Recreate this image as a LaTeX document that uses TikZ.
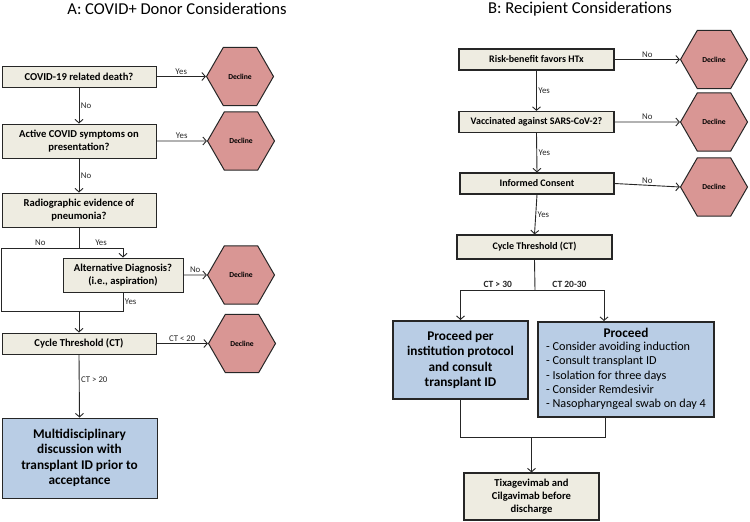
\documentclass[tikz,border=0pt]{standalone}
\usepackage{fontspec}
\setmainfont{Carlito}
\usepackage{tikz}
\usetikzlibrary{arrows.meta,shapes.geometric}
\definecolor{qbeige}{HTML}{EEECE1}
\definecolor{declred}{HTML}{D99694}
\definecolor{outblue}{HTML}{B9CDE5}
\definecolor{linegray}{HTML}{262626}
\tikzset{
  question/.style={draw=linegray,line width=1pt,fill=qbeige,align=center,inner sep=1pt,
    font=\bfseries\fontsize{10.6}{12.6}\selectfont},
  decline/.style={regular polygon,regular polygon sides=6,minimum size=67pt,inner sep=0pt,
    draw=linegray,line width=1pt,fill=declred,font=\bfseries\fontsize{7.6}{8}\selectfont},
  outcome/.style={draw=linegray,line width=1pt,fill=outblue,align=center,
    font=\bfseries\fontsize{13.3}{15.5}\selectfont},
  lbl/.style={font=\fontsize{8.8}{10}\selectfont,inner sep=1.5pt},
  flow/.style={linegray,line width=0.9pt}
}

\begin{document}
\begin{tikzpicture}[x=1pt,y=-1pt,>={Straight Barb[length=3.5pt,width=8pt]}]
\useasboundingbox (0,0) rectangle (750,522);
% The titles
\node[font=\fontsize{16.6}{18}\selectfont] (titleA) at (177,9) {A: COVID+ Donor Considerations};
\node[font=\fontsize{16.6}{18}\selectfont] (titleB) at (580,9) {B: Recipient Considerations};

% A: the donor questions
\node[question,minimum width=154,minimum height=21] (d1) at (79,76.5) {COVID-19 related death?};
\node[question,minimum width=154,minimum height=34] (d2) at (79,141) {Active COVID symptoms on\\presentation?};
\node[question,minimum width=154,minimum height=34] (d3) at (79,210) {Radiographic evidence of\\pneumonia?};
\node[question,minimum width=120,minimum height=34] (d4) at (123,275) {Alternative Diagnosis?\\(i.e., aspiration)};
\node[question,minimum width=154,minimum height=21] (d5) at (79,343.5) {Cycle Threshold (CT)};
\node[outcome,minimum width=155,minimum height=80] (accept) at (79.5,458)
  {Multidisciplinary\\discussion with\\transplant ID prior to\\acceptance};
\node[decline] (ha1) at (240,76.5) {Decline};
\node[decline] (ha2) at (241,141) {Decline};
\node[decline] (ha4) at (241,275) {Decline};
\node[decline] (ha5) at (242,343.5) {Decline};
\coordinate (splitA) at (79,248);
\coordinate (mergeA) at (79,311);

% A: the connectors
\draw[flow,->] (d1.east) -- node[lbl,above]{Yes} (ha1.west);
\draw[flow,->] (d2.east) -- node[lbl,above]{Yes} (ha2.west);
\draw[flow,->] (d4.east) -- node[lbl,above]{No} (ha4.west);
\draw[flow,->] (d5.east) -- node[lbl,above]{CT < 20} (ha5.west);
\draw[flow,->] (d1.south) -- node[lbl,right]{No} (d2.north);
\draw[flow,->] (d2.south) -- node[lbl,right]{No} (d3.north);
\draw[flow] (d3.south) -- (splitA);
\draw[flow,->] (splitA) -| node[lbl,above,pos=0.25]{Yes} (d4.north);
\draw[flow] (splitA) -- node[lbl,above]{No} (splitA -| d1.west) |- (mergeA);
\draw[flow] (d4.south) |- node[lbl,right,pos=0.25]{Yes} (mergeA);
\draw[flow,->] (mergeA) -- (d5.north);
\draw[flow,->] (d5.south) -- node[lbl,right,pos=0.4]{CT > 20} (accept.north);

% B: the recipient questions
\tikzset{question/.append style={line width=1.2pt,font=\bfseries\fontsize{10}{12}\selectfont}}
\node[question,minimum width=155,minimum height=21] (r1) at (536.5,59.5) {Risk-benefit favors HTx};
\node[question,minimum width=155,minimum height=21] (r2) at (536.5,122) {Vaccinated against SARS-CoV-2?};
\node[question,minimum width=154,minimum height=21] (r3) at (537,183.5) {Informed Consent};
\node[question,minimum width=155,minimum height=24] (r4) at (534.5,247) {Cycle Threshold (CT)};
\foreach \i/\y in {1/59.5,2/122,3/187}
{
  \node[decline] (hb\i) at (714,\y) {Decline};
  \draw[flow,->] (r\i.east) -- node[lbl,above]{No} (hb\i.west);
}
\draw[flow,->] (r1.south) -- node[lbl,right]{Yes} (r2.north);
\draw[flow,->] (r2.south) -- node[lbl,right]{Yes} (r3.north);
\draw[flow,->] (r3.south) -- node[lbl,right]{Yes} (r4.north);

% B: the outcomes
\node[outcome,line width=2pt,minimum width=135,minimum height=78] (p1) at (460.5,360)
  {Proceed per\\institution protocol\\and consult\\transplant ID};
\node[outcome,line width=2pt,minimum width=176,minimum height=95] (p2) at (626,369.5)
  {\fontsize{12.2}{14.3}\selectfont\mdseries
   \begin{tabular}{@{}l@{}}
   \multicolumn{1}{@{}c@{}}{\bfseries\fontsize{13.3}{14.3}\selectfont Proceed}\\[-1pt]
   - Consider avoiding induction\\
   - Consult transplant ID\\
   - Isolation for three days\\
   - Consider Remdesivir\\
   - Nasopharyngeal swab on day 4
   \end{tabular}};
\node[question,minimum width=135,minimum height=47,
  font=\bfseries\fontsize{10.6}{13}\selectfont] (fin) at (531.5,496.5)
  {Tixagevimab and\\Cilgavimab before\\discharge};
\coordinate (splitB) at (535,290);
\coordinate (mergeB) at (531.5,437);
\draw[flow] (r4.south) -- (splitB);
\draw[flow,->] (splitB) -| node[lbl,above,pos=0.25,font=\bfseries\fontsize{9.5}{10}\selectfont]{CT > 30} (p1.north);
\draw[flow,->] (splitB) -| node[lbl,above,pos=0.25,font=\bfseries\fontsize{9.5}{10}\selectfont]{CT 20-30} ([xshift=-22pt]p2.north);
\draw[flow] (p1.south) |- (mergeB);
\draw[flow] ([xshift=-21pt]p2.south) |- (mergeB);
\draw[flow,->] (mergeB) -- (fin.north);
\end{tikzpicture}
\end{document}
